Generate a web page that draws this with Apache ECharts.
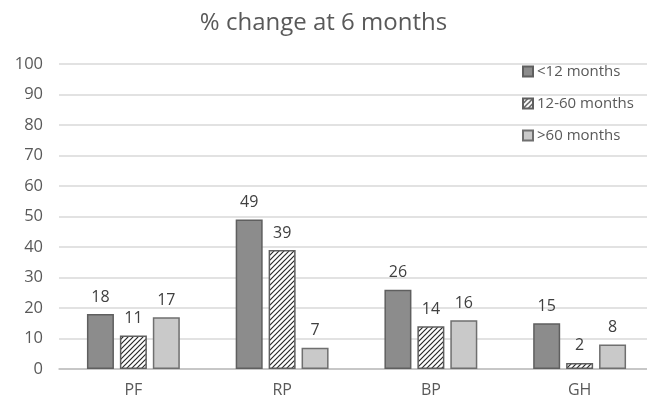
<!DOCTYPE html>
<html>
<head>
<meta charset="utf-8">
<script src="https://cdn.jsdelivr.net/npm/echarts@6/dist/echarts.min.js"></script>
<style>
  html, body { margin: 0; padding: 0; background: #fff; overflow: hidden; }
  #chart { width: 647px; height: 403px; }
</style>
</head>
<body>
<div id="chart"></div>
<script>
const categories = ['PF', 'RP', 'BP', 'GH']
const lessThan12 = [18, 49, 26, 15]
const from12to60 = [11, 39, 14, 2]
const moreThan60 = [17, 7, 16, 8]

// diagonal hatch pattern for the middle series
function makeHatch() {
  const c = document.createElement('canvas')
  c.width = 5
  c.height = 5
  const ctx = c.getContext('2d')
  ctx.fillStyle = '#ffffff'
  ctx.fillRect(0, 0, 5, 5)
  ctx.strokeStyle = '#2a2a2a'
  ctx.lineWidth = 1.2
  ctx.beginPath()
  ctx.moveTo(0, 5); ctx.lineTo(5, 0)
  ctx.moveTo(-2.5, 2.5); ctx.lineTo(2.5, -2.5)
  ctx.moveTo(2.5, 7.5); ctx.lineTo(7.5, 2.5)
  ctx.stroke()
  return c
}

const chart = echarts.init(document.getElementById('chart'))
const fontFamily = '"Open Sans", "Liberation Sans", sans-serif'
const labelStyle = { show: true, position: 'top', distance: 9, color: '#404040', fontSize: 16, fontFamily: fontFamily }

chart.setOption({
  animation: false,
  title: {
    text: '% change at 6 months',
    left: 'center',
    top: 6,
    textStyle: { fontSize: 24, fontWeight: 'normal', color: '#595959', fontFamily: fontFamily }
  },
  legend: {
    orient: 'vertical',
    left: 517,
    top: 59,
    itemGap: 17,
    itemWidth: 10,
    itemHeight: 10,
    icon: 'rect',
    textStyle: { fontSize: 15, color: '#595959', fontFamily: fontFamily, padding: [0, 0, 0, -1] },
    data: ['<12 months', '12-60 months', '>60 months']
  },
  // plot area runs past the right edge, as in the original
  grid: { left: 59, width: 595, top: 64, height: 305, outerBoundsMode: 'none' },
  xAxis: {
    type: 'category',
    data: categories,
    axisTick: { show: false },
    axisLine: { lineStyle: { color: '#bfbfbf', width: 1.5 } },
    axisLabel: { color: '#595959', fontSize: 16, margin: 13, fontFamily: fontFamily }
  },
  yAxis: {
    type: 'value',
    min: 0,
    max: 100,
    interval: 10,
    axisLine: { show: false },
    axisTick: { show: false },
    splitLine: { lineStyle: { color: '#d9d9d9', width: 1.5 } },
    axisLabel: { color: '#595959', fontSize: 16.5, margin: 16, fontFamily: fontFamily }
  },
  series: [
    {
      name: '<12 months',
      type: 'bar',
      barWidth: 27,
      barGap: '22%',
      data: lessThan12,
      itemStyle: { color: '#8c8c8c', borderColor: '#5f5f5f', borderWidth: 1.5 },
      label: labelStyle
    },
    {
      name: '12-60 months',
      type: 'bar',
      barWidth: 27,
      barGap: '22%',
      data: from12to60,
      itemStyle: { color: { image: makeHatch(), repeat: 'repeat' }, borderColor: '#5f5f5f', borderWidth: 1.5 },
      label: labelStyle
    },
    {
      name: '>60 months',
      type: 'bar',
      barWidth: 27,
      barGap: '22%',
      data: moreThan60,
      itemStyle: { color: '#c9c9c9', borderColor: '#6f6f6f', borderWidth: 1.5 },
      label: labelStyle
    }
  ]
})
</script>
</body>
</html>
